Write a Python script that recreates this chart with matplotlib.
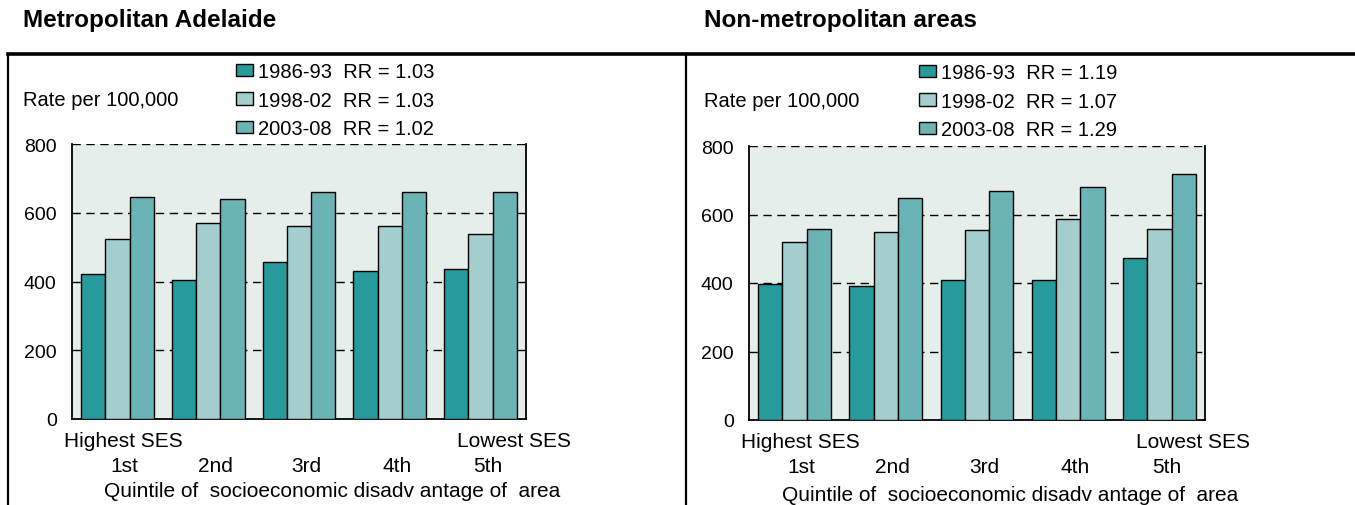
import numpy as np
import matplotlib
matplotlib.use('Agg')
import matplotlib.pyplot as plt
import matplotlib.transforms as mtransforms
from matplotlib.patches import Patch
from matplotlib.lines import Line2D

plt.rcParams['font.family'] = ['Liberation Sans', 'DejaVu Sans']

# Data
quintiles = ['1st', '2nd', '3rd', '4th', '5th']
periods = ['1986-93', '1998-02', '2003-08']

metro_rr = ['1.03', '1.03', '1.02']
metro_1986 = [423, 404, 456, 430, 435]
metro_1998 = [525, 569, 562, 562, 539]
metro_2003 = [647, 639, 660, 660, 660]

nonmetro_rr = ['1.19', '1.07', '1.29']
nonmetro_1986 = [397, 390, 410, 410, 473]
nonmetro_1998 = [519, 549, 556, 588, 557]
nonmetro_2003 = [558, 649, 670, 679, 719]

colors = ['#279A9C', '#A4CECD', '#6AB4B6']
bg = '#E5EEEB'

W, H = 1355, 506
fig = plt.figure(figsize=(W / 100, H / 100), dpi=100)


def fx(px):
    return px / W


def fy(py):
    return 1 - py / H


# frame lines around the two panels
fig.add_artist(Line2D([fx(8), 1], [fy(55), fy(55)], color='black', lw=2.6))
fig.add_artist(Line2D([fx(8), fx(8)], [fy(55), 0], color='black', lw=1.6))
fig.add_artist(Line2D([fx(686), fx(686)], [fy(55), 0], color='black', lw=1.6))


def draw_panel(ax_px, title, title_px, series, rr, legend_px, rate_px, xlab_px):
    x0, y0, x1, y1 = ax_px
    ax = fig.add_axes([fx(x0), fy(y1), fx(x1 - x0), (y1 - y0) / H])
    ax.set_facecolor(bg)
    x = np.arange(len(quintiles))
    bw = 0.8 / 3
    for i, vals in enumerate(series):
        ax.bar(x + (i - 1) * bw, vals, bw, color=colors[i], edgecolor='black',
               linewidth=1.0, zorder=3)
    ax.set_xlim(-0.5, 4.5)
    ax.set_ylim(0, 800)
    ax.set_yticks([0, 200, 400, 600, 800])
    ax.set_yticklabels(['0', '200', '400', '600', '800'], fontsize=14)
    for v in [200, 400, 600, 800]:
        ax.axhline(v, color='black', lw=1.0, ls=(0, (6, 4)), zorder=1)
    ax.set_xticks(x)
    ax.set_xticklabels(quintiles, fontsize=15)
    ax.tick_params(length=0)
    ax.tick_params(axis='y', pad=11)
    ax.tick_params(axis='x', pad=27)
    shift = mtransforms.ScaledTranslation(7 / 100, 0, fig.dpi_scale_trans)
    for lab in ax.get_xticklabels():
        lab.set_transform(lab.get_transform() + shift)
    for s in ['left', 'right', 'bottom']:
        ax.spines[s].set_linewidth(1.3)
    ax.spines['top'].set_visible(False)

    fig.text(fx(title_px[0]), fy(title_px[1]), title, fontsize=17.5, fontweight='bold',
             ha='left', va='center')
    fig.text(fx(rate_px[0]), fy(rate_px[1]), 'Rate per 100,000', fontsize=14.5,
             ha='left', va='center')
    fig.text(fx(x0 - 8), fy(y1 + 22), 'Highest SES', fontsize=15, ha='left', va='center')
    fig.text(fx(x1 + 45), fy(y1 + 22), 'Lowest SES', fontsize=15, ha='right', va='center')
    fig.text(fx(xlab_px[0]), fy(xlab_px[1]), 'Quintile of  socioeconomic disadv antage of  area',
             fontsize=15, ha='center', va='center')

    handles = [Patch(facecolor=c, edgecolor='black', linewidth=1.0) for c in colors]
    labels = [f'{p}  RR = {r}' for p, r in zip(periods, rr)]
    fig.legend(handles, labels, loc='upper left', bbox_to_anchor=(fx(legend_px[0]), fy(legend_px[1])),
               bbox_transform=fig.transFigure, frameon=False, fontsize=14.5,
               handlelength=0.85, handleheight=0.55, handletextpad=0.25,
               labelspacing=0.48, borderpad=0, borderaxespad=0)
    return ax


draw_panel((72, 145, 526, 420), 'Metropolitan Adelaide', (23, 21),
           [metro_1986, metro_1998, metro_2003], metro_rr,
           (236, 63), (23, 100), (332, 492))

draw_panel((749, 147, 1205, 421), 'Non-metropolitan areas', (704, 21),
           [nonmetro_1986, nonmetro_1998, nonmetro_2003], nonmetro_rr,
           (919, 64), (704, 102), (1010, 496))

fig.savefig('out.png', dpi=100)
